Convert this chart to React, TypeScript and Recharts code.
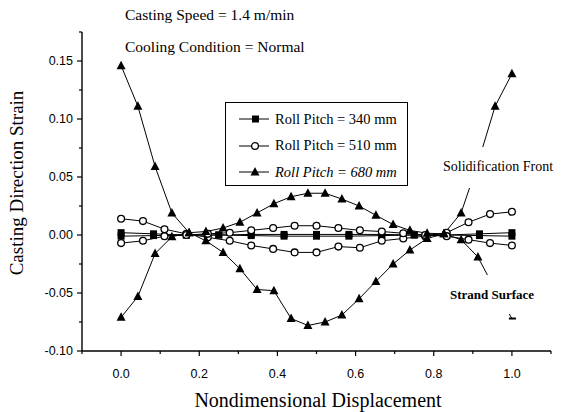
import { LineChart, Line, XAxis, YAxis } from 'recharts'

// x positions of the nodes for each roll pitch
const squareX = [0, 0.083, 0.167, 0.25, 0.333, 0.417, 0.5, 0.583, 0.667, 0.75, 0.833, 0.917, 1.0]
const circleX = [0, 0.056, 0.111, 0.167, 0.222, 0.278, 0.333, 0.389, 0.444, 0.5, 0.556, 0.611, 0.667, 0.722, 0.778, 0.833, 0.889, 0.944, 1.0]
const triangleX = [0, 0.043, 0.087, 0.13, 0.174, 0.217, 0.261, 0.304, 0.348, 0.391, 0.435, 0.478, 0.522, 0.565, 0.609, 0.652, 0.696, 0.739, 0.783, 0.826, 0.87, 0.913, 0.957, 1.0]

// strain values
const pitch340Front = [0.002, 0.001, 0.0, 0.0, -0.0005, -0.001, -0.001, -0.001, -0.0005, 0.0, 0.0, 0.001, 0.002]
const pitch340Surface = [-0.001, -0.0005, 0.0, 0.0, 0.0005, 0.0005, 0.0005, 0.0005, 0.0005, 0.0, 0.0, -0.0005, -0.001]
const pitch510Front = [0.014, 0.012, 0.005, 0.001, -0.002, -0.005, -0.009, -0.012, -0.015, -0.015, -0.01, -0.011, -0.005, -0.003, -0.001, 0.002, 0.011, 0.018, 0.02]
const pitch510Surface = [-0.007, -0.005, -0.001, 0.0, 0.001, 0.002, 0.004, 0.006, 0.008, 0.008, 0.006, 0.004, 0.003, 0.0015, 0.0, -0.001, -0.004, -0.007, -0.009]
const pitch680Front = [0.146, 0.111, 0.059, 0.019, 0.002, -0.005, -0.015, -0.029, -0.047, -0.048, -0.072, -0.078, -0.075, -0.069, -0.055, -0.04, -0.025, -0.013, -0.003, 0.001, 0.019, 0.062, 0.111, 0.139]
const pitch680Surface = [-0.071, -0.053, -0.016, -0.0015, 0.002, 0.003, 0.006, 0.011, 0.019, 0.027, 0.033, 0.036, 0.036, 0.031, 0.025, 0.017, 0.009, 0.004, 0.0015, 0.001, -0.004, -0.019, -0.047, -0.072]

const xMajorTicks = [0, 0.2, 0.4, 0.6, 0.8, 1.0]
const xMinorTicks = [-0.1, 0.1, 0.3, 0.5, 0.7, 0.9, 1.1]
const yMajorTicks = [-0.1, -0.05, 0, 0.05, 0.1, 0.15]
const yMinorTicks = [-0.075, -0.025, 0.025, 0.075, 0.125, 0.175]

const legendLabels = ['Roll Pitch = 340 mm', 'Roll Pitch = 510 mm', 'Roll Pitch = 680 mm']

const zip = (xs: number[], ys: number[]) => xs.map((x, i) => ({ x, y: ys[i] }))

const serif = '"Liberation Serif", "Times New Roman", serif'
const sans = '"Liberation Sans", Arial, sans-serif'

const SquareDot = (props: any) => {
  const { cx, cy, index } = props
  return <rect key={index} x={cx - 3.5} y={cy - 3.5} width={7} height={7} fill="#000" />
}

const CircleDot = (props: any) => {
  const { cx, cy, index } = props
  return <circle key={index} cx={cx} cy={cy} r={3.4} fill="#fff" stroke="#000" strokeWidth={1.3} />
}

const TriangleDot = (props: any) => {
  const { cx, cy, index } = props
  return <path key={index} d={`M${cx},${cy - 5} L${cx + 4.5},${cy + 3.5} L${cx - 4.5},${cy + 3.5} Z`} fill="#000" />
}

// last point of the strand-surface curve is mostly hidden behind its label
const SurfaceTriangleDot = (props: any) => {
  const { cx, cy, index } = props
  if (index === pitch680Surface.length - 1) {
    return <rect key={index} x={cx - 3} y={cy - 1} width={7} height={2} fill="#000" />
  }
  return <TriangleDot {...props} />
}

const XTick = (props: any) => {
  const { x, y, payload } = props
  const major = xMajorTicks.includes(payload.value)
  return (
    <g>
      <line x1={x} x2={x} y1={y} y2={y + (major ? 5 : 3)} stroke="#000" strokeWidth={1.2} />
      {major && (
        <text x={x} y={y + 27} textAnchor="middle" fontFamily={sans} fontSize={12.5} fill="#000">
          {payload.value.toFixed(1)}
        </text>
      )}
    </g>
  )
}

const YTick = (props: any) => {
  const { x, y, payload } = props
  const major = yMajorTicks.includes(payload.value)
  return (
    <g>
      <line x1={x - (major ? 5 : 3)} x2={x} y1={y} y2={y} stroke="#000" strokeWidth={1.2} />
      {major && (
        <text x={x - 9} y={y + 4} textAnchor="end" fontFamily={sans} fontSize={12.5} fill="#000">
          {payload.value.toFixed(2)}
        </text>
      )}
    </g>
  )
}

const LegendSymbol = ({ kind }: { kind: number }) => (
  <svg width={32} height={12} style={{ display: 'block' }}>
    <line x1={1} x2={31} y1={6} y2={6} stroke="#000" strokeWidth={1} />
    {kind === 0 && <rect x={14} y={2.5} width={7} height={7} fill="#000" />}
    {kind === 1 && <circle cx={17} cy={6} r={3.4} fill="#fff" stroke="#000" strokeWidth={1.3} />}
    {kind === 2 && <path d="M17,1 L21.5,9.5 L12.5,9.5 Z" fill="#000" />}
  </svg>
)

export default function App() {
  return (
    <div style={{ position: 'absolute', left: 0, top: 0, width: 566, height: 412, background: '#fff', fontFamily: serif, color: '#000', overflow: 'hidden' }}>
      <LineChart width={566} height={412} margin={{ top: 32, right: 15, bottom: 0, left: 0 }}>
        <XAxis
          type="number"
          dataKey="x"
          domain={[-0.1, 1.1]}
          ticks={[...xMajorTicks, ...xMinorTicks]}
          interval={0}
          height={61}
          tickSize={0}
          tickMargin={0}
          tickLine={false}
          tick={<XTick />}
          axisLine={{ stroke: '#000', strokeWidth: 1.4 }}
          allowDataOverflow
        />
        <YAxis
          type="number"
          dataKey="y"
          domain={[-0.1, 0.175]}
          ticks={[...yMajorTicks, ...yMinorTicks]}
          interval={0}
          width={82}
          tickSize={0}
          tickMargin={0}
          tickLine={false}
          tick={<YTick />}
          axisLine={{ stroke: '#000', strokeWidth: 1.4 }}
          allowDataOverflow
        />
        <Line data={zip(squareX, pitch340Front)} dataKey="y" stroke="#000" strokeWidth={1} dot={SquareDot} isAnimationActive={false} />
        <Line data={zip(squareX, pitch340Surface)} dataKey="y" stroke="#000" strokeWidth={1} dot={SquareDot} isAnimationActive={false} />
        <Line data={zip(circleX, pitch510Front)} dataKey="y" stroke="#000" strokeWidth={1} dot={CircleDot} isAnimationActive={false} />
        <Line data={zip(circleX, pitch510Surface)} dataKey="y" stroke="#000" strokeWidth={1} dot={CircleDot} isAnimationActive={false} />
        <Line data={zip(triangleX, pitch680Front)} dataKey="y" stroke="#000" strokeWidth={1} dot={TriangleDot} isAnimationActive={false} />
        <Line data={zip(triangleX, pitch680Surface)} dataKey="y" stroke="#000" strokeWidth={1} dot={SurfaceTriangleDot} isAnimationActive={false} />
      </LineChart>

      <div style={{ position: 'absolute', left: 125, top: 7, fontSize: 15.5, lineHeight: 1, whiteSpace: 'nowrap' }}>Casting Speed = 1.4 m/min</div>
      <div style={{ position: 'absolute', left: 125, top: 39, fontSize: 15.5, lineHeight: 1, whiteSpace: 'nowrap' }}>Cooling Condition = Normal</div>

      <div style={{ position: 'absolute', left: 16, top: 183, fontSize: 19, lineHeight: 1, whiteSpace: 'nowrap', transform: 'translate(-50%, -50%) rotate(-90deg)' }}>
        Casting Direction Strain
      </div>
      <div style={{ position: 'absolute', left: 318, top: 390, fontSize: 20, lineHeight: 1, whiteSpace: 'nowrap', transform: 'translateX(-50%)' }}>
        Nondimensional Displacement
      </div>

      <div style={{ position: 'absolute', left: 225, top: 102, width: 181, height: 82, border: '1.5px solid #000', background: '#fff' }}>
        {legendLabels.map((label, i) => (
          <div key={label} style={{ position: 'absolute', left: 12, top: 9 + i * 26.5, display: 'flex', alignItems: 'center', height: 14 }}>
            <LegendSymbol kind={i} />
            <span style={{ marginLeft: 5, fontSize: 14.5, lineHeight: 1, whiteSpace: 'nowrap', fontStyle: i === 2 ? 'italic' : 'normal' }}>{label}</span>
          </div>
        ))}
      </div>

      <div style={{ position: 'absolute', left: 440, top: 147, padding: '13px 3px 14px 3px', background: '#fff', fontSize: 14, lineHeight: 1, whiteSpace: 'nowrap' }}>
        Solidification Front
      </div>
      <div style={{ position: 'absolute', left: 447, top: 275, padding: '13px 3px 13px 3px', background: '#fff', fontSize: 13, fontWeight: 'bold', lineHeight: 1, whiteSpace: 'nowrap' }}>
        Strand Surface
      </div>
    </div>
  )
}
